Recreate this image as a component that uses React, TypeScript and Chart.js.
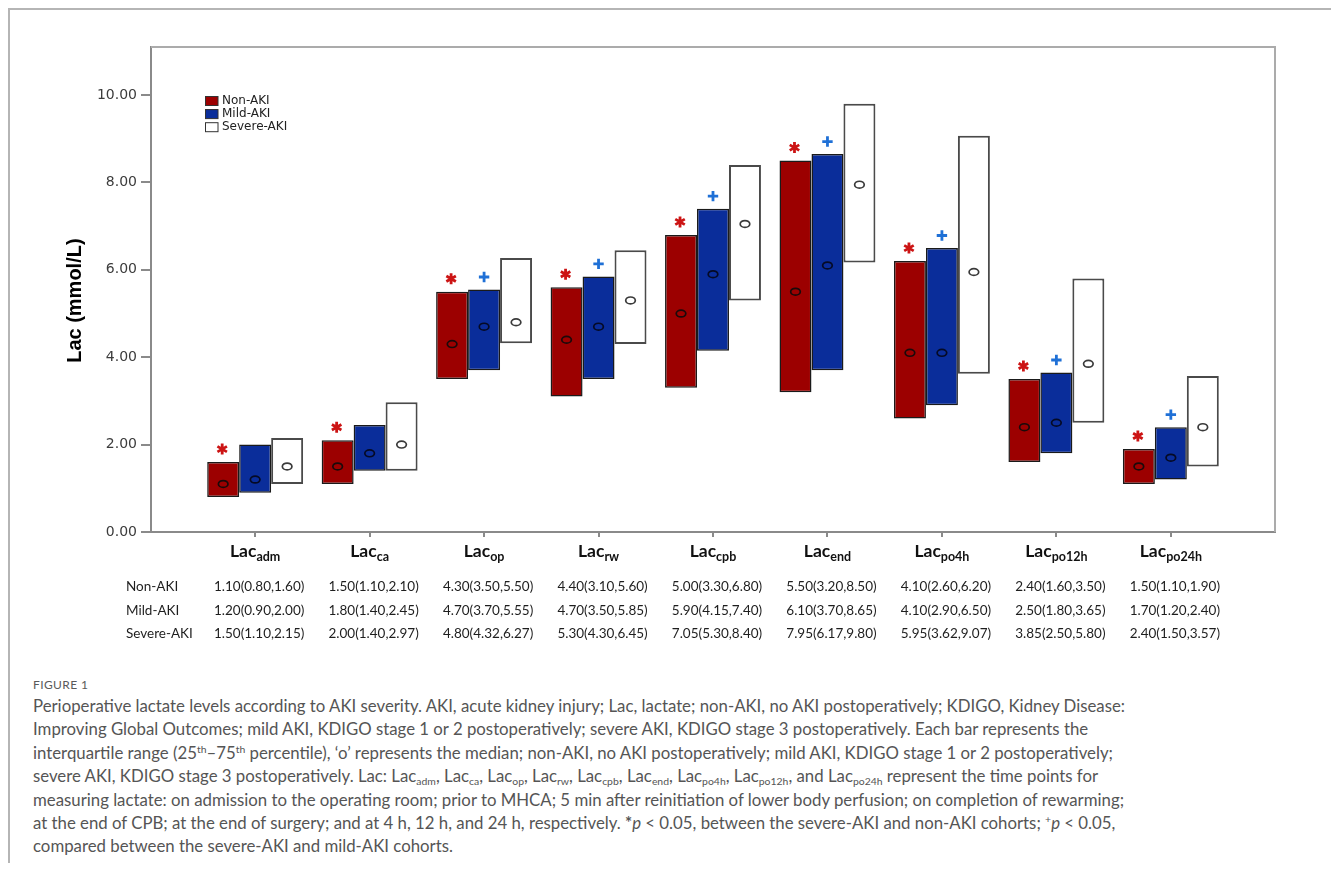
import React, { useEffect, useRef } from 'react';
import { Chart, registerables } from 'chart.js';

Chart.register(...registerables);

// ---------- data ----------
const timePoints = ['adm', 'ca', 'op', 'rw', 'cpb', 'end', 'po4h', 'po12h', 'po24h'];
const groupNames = ['Non-AKI', 'Mild-AKI', 'Severe-AKI'];

const nonAkiMedian = [1.1, 1.5, 4.3, 4.4, 5.0, 5.5, 4.1, 2.4, 1.5];
const nonAkiQ1 = [0.8, 1.1, 3.5, 3.1, 3.3, 3.2, 2.6, 1.6, 1.1];
const nonAkiQ3 = [1.6, 2.1, 5.5, 5.6, 6.8, 8.5, 6.2, 3.5, 1.9];

const mildAkiMedian = [1.2, 1.8, 4.7, 4.7, 5.9, 6.1, 4.1, 2.5, 1.7];
const mildAkiQ1 = [0.9, 1.4, 3.7, 3.5, 4.15, 3.7, 2.9, 1.8, 1.2];
const mildAkiQ3 = [2.0, 2.45, 5.55, 5.85, 7.4, 8.65, 6.5, 3.65, 2.4];

const severeAkiMedian = [1.5, 2.0, 4.8, 5.3, 7.05, 7.95, 5.95, 3.85, 2.4];
const severeAkiQ1 = [1.1, 1.4, 4.32, 4.3, 5.3, 6.17, 3.62, 2.5, 1.5];
const severeAkiQ3 = [2.15, 2.97, 6.27, 6.45, 8.4, 9.8, 9.07, 5.8, 3.57];

// * p<0.05 severe vs non-AKI (marked above Non-AKI bar); + p<0.05 severe vs mild (above Mild-AKI bar)
const sigSevereVsNon = [true, true, true, true, true, true, true, true, true];
const sigSevereVsMild = [false, false, true, true, true, true, true, true, true];

const yTickValues = [0, 2, 4, 6, 8, 10];
const yMax = 11.1;

// ---------- styles ----------
const groupFill = ['#9c0000', '#0a2d9a', '#ffffff'];
const groupBorder = ['#1a1a1a', '#1a1a1a', '#4a4a4a'];
const groupMedianStroke = ['#1a0a0a', '#050a25', '#3a3a3a'];

const W = 1331;
const CANVAS_H = 660;
const PLOT_LEFT = 151;
const PLOT_TOP = 47;
const PLOT_RIGHT = 1275;
const PLOT_BOTTOM = 532;

const medians = [nonAkiMedian, mildAkiMedian, severeAkiMedian];
const q1s = [nonAkiQ1, mildAkiQ1, severeAkiQ1];
const q3s = [nonAkiQ3, mildAkiQ3, severeAkiQ3];

const fmt = (v: number) => v.toFixed(2);

const decorPlugin = {
  id: 'decor',
  afterDatasetsDraw(chart: any) {
    const ctx = chart.ctx as CanvasRenderingContext2D;
    const yScale = chart.scales.y;
    const area = chart.chartArea;

    // frame top/right
    ctx.save();
    ctx.strokeStyle = '#ababab';
    ctx.lineWidth = 2;
    ctx.beginPath();
    ctx.moveTo(area.left, area.top);
    ctx.lineTo(area.right, area.top);
    ctx.lineTo(area.right, area.bottom);
    ctx.stroke();
    ctx.restore();

    // medians
    for (let d = 0; d < 3; d++) {
      const meta = chart.getDatasetMeta(d);
      meta.data.forEach((el: any, i: number) => {
        const y = yScale.getPixelForValue(medians[d][i]);
        ctx.save();
        ctx.strokeStyle = groupMedianStroke[d];
        ctx.lineWidth = 1.7;
        ctx.beginPath();
        ctx.ellipse(el.x, y, 4.8, 3.4, 0, 0, Math.PI * 2);
        ctx.stroke();
        ctx.restore();
      });
    }

    // significance markers
    const nonMeta = chart.getDatasetMeta(0);
    nonMeta.data.forEach((el: any, i: number) => {
      if (!sigSevereVsNon[i]) return;
      const cx = el.x - 1;
      const cy = yScale.getPixelForValue(q3s[0][i]) - 13;
      ctx.save();
      ctx.strokeStyle = '#cc1414';
      ctx.lineWidth = 2.8;
      ctx.lineCap = 'butt';
      ctx.beginPath();
      for (let k = 0; k < 3; k++) {
        const a = Math.PI / 2 + (k * Math.PI) / 3;
        ctx.moveTo(cx + Math.cos(a) * 5.5, cy + Math.sin(a) * 5.5);
        ctx.lineTo(cx - Math.cos(a) * 5.5, cy - Math.sin(a) * 5.5);
      }
      ctx.stroke();
      ctx.restore();
    });
    const mildMeta = chart.getDatasetMeta(1);
    mildMeta.data.forEach((el: any, i: number) => {
      if (!sigSevereVsMild[i]) return;
      const cx = el.x;
      const cy = yScale.getPixelForValue(q3s[1][i]) - 12.5;
      ctx.save();
      ctx.strokeStyle = '#1f70d6';
      ctx.lineWidth = 2.8;
      ctx.beginPath();
      ctx.moveTo(cx - 5.2, cy);
      ctx.lineTo(cx + 5.2, cy);
      ctx.moveTo(cx, cy - 5.2);
      ctx.lineTo(cx, cy + 5.2);
      ctx.stroke();
      ctx.restore();
    });
  },
  afterDraw(chart: any) {
    const ctx = chart.ctx as CanvasRenderingContext2D;
    const xScale = chart.scales.x;

    // legend
    chart.data.datasets.forEach((ds: any, d: number) => {
      const top = 96 + d * 13.1;
      ctx.save();
      ctx.fillStyle = ds.backgroundColor;
      ctx.fillRect(205, top, 13, 9.5);
      ctx.strokeStyle = '#333';
      ctx.lineWidth = 1;
      ctx.strokeRect(205.5, top + 0.5, 12.5, 9);
      ctx.fillStyle = '#222';
      ctx.font = '12px "DejaVu Sans"';
      ctx.textBaseline = 'middle';
      ctx.textAlign = 'left';
      ctx.fillText(ds.label, 222, top + 5);
      ctx.restore();
    });

    // x category labels with subscripts
    timePoints.forEach((tp, i) => {
      const x = xScale.getPixelForValue(i);
      ctx.save();
      ctx.fillStyle = '#111';
      ctx.textBaseline = 'alphabetic';
      ctx.textAlign = 'left';
      ctx.font = 'bold 17.5px Lato';
      const wMain = ctx.measureText('Lac').width;
      ctx.font = 'bold 12.5px Lato';
      const wSub = ctx.measureText(tp).width;
      const start = x - (wMain + wSub) / 2;
      ctx.font = 'bold 17.5px Lato';
      ctx.fillText('Lac', start, 557);
      ctx.font = 'bold 12.5px Lato';
      ctx.fillText(tp, start + wMain, 561);
      ctx.restore();
    });

    // table
    const rowY = [587, 611, 634];
    groupNames.forEach((g, d) => {
      ctx.save();
      ctx.fillStyle = '#1e1e1e';
      ctx.textBaseline = 'middle';
      ctx.font = '13.5px Lato';
      ctx.textAlign = 'left';
      ctx.fillText(g, 126, rowY[d]);
      ctx.textAlign = 'center';
      timePoints.forEach((_, i) => {
        const x = xScale.getPixelForValue(i) + 4;
        ctx.fillText(`${fmt(medians[d][i])}(${fmt(q1s[d][i])},${fmt(q3s[d][i])})`, x, rowY[d]);
      });
      ctx.restore();
    });
  },
};

const sub = { fontSize: '0.62em', verticalAlign: '-0.25em', lineHeight: 0 } as React.CSSProperties;
const sup = { fontSize: '0.62em', verticalAlign: '0.55em', lineHeight: 0 } as React.CSSProperties;

function Lac({ s }: { s: string }) {
  return (
    <>
      Lac<span style={sub}>{s}</span>
    </>
  );
}

export default function App() {
  const canvasRef = useRef<HTMLCanvasElement | null>(null);

  useEffect(() => {
    if (!canvasRef.current) return;
    const datasets = groupNames.map((name, d) => ({
      label: name,
      data: timePoints.map((_, i) => ({ x: i, y: [q1s[d][i], q3s[d][i]] })),
      backgroundColor: groupFill[d],
      borderColor: groupBorder[d],
      borderWidth: d === 2 ? 2 : 1.5,
      borderSkipped: false as const,
      categoryPercentage: 0.838,
      barPercentage: 1,
    }));
    const chart = new Chart(canvasRef.current, {
      type: 'bar',
      data: { datasets: datasets as any },
      options: {
        animation: false,
        responsive: false,
        maintainAspectRatio: false,
        events: [],
        layout: { padding: { left: 0, top: PLOT_TOP, right: W - PLOT_RIGHT, bottom: 0 } },
        plugins: { legend: { display: false }, tooltip: { enabled: false } },
        scales: {
          x: {
            type: 'linear',
            min: -0.91,
            max: timePoints.length - 1 + 0.91,
            offset: false,
            grid: { offset: false, drawOnChartArea: false, drawTicks: true, tickLength: 5, color: '#8a8a8a', lineWidth: 2 },
            border: { color: '#8a8a8a', width: 2 },
            ticks: { display: false },
            afterBuildTicks: (s: any) => {
              s.ticks = timePoints.map((_, i) => ({ value: i }));
            },
            afterFit: (s: any) => {
              s.height = CANVAS_H - PLOT_BOTTOM;
            },
          },
          y: {
            min: 0,
            max: yMax,
            grid: { drawOnChartArea: false, drawTicks: true, tickLength: 10, color: '#8a8a8a', lineWidth: 2 },
            border: { color: '#8a8a8a', width: 2 },
            afterBuildTicks: (s: any) => {
              s.ticks = yTickValues.map((v) => ({ value: v }));
            },
            ticks: {
              callback: (v: any) => Number(v).toFixed(2),
              font: { family: 'DejaVu Sans', size: 14 },
              color: '#3c3c3c',
              padding: 4,
            },
            title: {
              display: true,
              text: 'Lac (mmol/L)\u00a0\u00a0\u00a0\u00a0',
              font: { family: 'Liberation Sans', size: 20, weight: 'bold' },
              color: '#000',
              padding: { top: 63, bottom: 0 },
            },
            afterFit: (s: any) => {
              s.width = PLOT_LEFT;
            },
          },
        },
      },
      plugins: [decorPlugin],
    } as any);
    return () => chart.destroy();
  }, []);

  const capStyle: React.CSSProperties = {
    position: 'absolute',
    left: 33,
    whiteSpace: 'nowrap',
    fontFamily: 'Lato, sans-serif',
    fontSize: 16.8,
    lineHeight: '20px',
    color: '#555',
  };
  const lines: React.ReactNode[] = [
    <>Perioperative lactate levels according to AKI severity. AKI, acute kidney injury; Lac, lactate; non-AKI, no AKI postoperatively; KDIGO, Kidney Disease:</>,
    <>Improving Global Outcomes; mild AKI, KDIGO stage 1 or 2 postoperatively; severe AKI, KDIGO stage 3 postoperatively. Each bar represents the</>,
    <>
      interquartile range (25<span style={sup}>th</span>–75<span style={sup}>th</span> percentile), ‘o’ represents the median; non-AKI, no AKI postoperatively; mild AKI, KDIGO stage 1 or 2 postoperatively;
    </>,
    <>
      severe AKI, KDIGO stage 3 postoperatively. Lac: <Lac s="adm" />, <Lac s="ca" />, <Lac s="op" />, <Lac s="rw" />, <Lac s="cpb" />, <Lac s="end" />, <Lac s="po4h" />, <Lac s="po12h" />, and <Lac s="po24h" /> represent the time points for
    </>,
    <>measuring lactate: on admission to the operating room; prior to MHCA; 5 min after reinitiation of lower body perfusion; on completion of rewarming;</>,
    <>
      at the end of CPB; at the end of surgery; and at 4 h, 12 h, and 24 h, respectively. <b>*</b>
      <i>p</i> &lt; 0.05, between the severe-AKI and non-AKI cohorts; <span style={sup}>+</span>
      <i>p</i> &lt; 0.05,
    </>,
    <>compared between the severe-AKI and mild-AKI cohorts.</>,
  ];

  return (
    <div style={{ position: 'absolute', left: 0, top: 0, width: W, height: 874, background: '#fff', overflow: 'hidden' }}>
      <div style={{ position: 'absolute', left: 8, top: 8, width: W - 8, height: 853, borderTop: '2px solid #b5b5b5', borderLeft: '2px solid #b5b5b5' }} />
      <canvas ref={canvasRef} width={W} height={CANVAS_H} style={{ position: 'absolute', left: 0, top: 0, width: W, height: CANVAS_H }} />
      <div style={{ ...capStyle, top: 677, fontSize: 12, lineHeight: '16px', letterSpacing: '0.4px', color: '#5a5a5a' }}>FIGURE 1</div>
      {lines.map((l, k) => (
        <div key={k} style={{ ...capStyle, top: 696 + k * 23.4 }}>
          {l}
        </div>
      ))}
    </div>
  );
}
